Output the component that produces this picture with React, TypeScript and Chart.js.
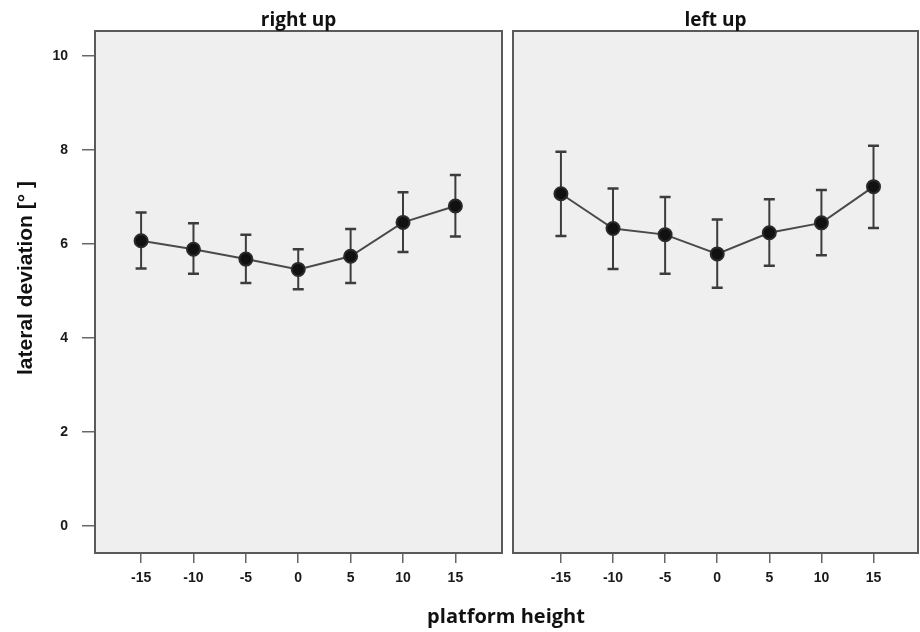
import React, { useEffect, useRef } from "react";
import { Chart, registerables } from "chart.js";

Chart.register(...registerables);

// ---- data ----
const heights = [-15, -10, -5, 0, 5, 10, 15];
const rightUpMean = [6.07, 5.89, 5.68, 5.46, 5.74, 6.46, 6.81];
const rightUpUpper = [6.67, 6.44, 6.2, 5.89, 6.32, 7.1, 7.47];
const rightUpLower = [5.48, 5.37, 5.17, 5.04, 5.17, 5.83, 6.16];
const leftUpMean = [7.07, 6.33, 6.2, 5.79, 6.24, 6.45, 7.22];
const leftUpUpper = [7.96, 7.18, 7.0, 6.52, 6.95, 7.15, 8.09];
const leftUpLower = [6.17, 5.47, 5.37, 5.07, 5.54, 5.76, 6.34];
const yTicks = [0, 2, 4, 6, 8, 10];
const xTicks = [-15, -10, -5, 0, 5, 10, 15];
const panelTitles = ["right up", "left up"];
const xTitle = "platform height";
const yTitle = "lateral deviation [° ]";

const W = 920;
const H = 632;
const TICK_FONT = { family: "'Liberation Sans', Arial, sans-serif", size: 14, weight: "bold" as const };

type PanelOpts = {
  mean: number[];
  upper: number[];
  lower: number[];
  title: string;
  showY: boolean;
  padLeft: number;
  padRight: number;
  xMin: number;
  xMax: number;
  drawShared: boolean;
};

function makeConfig(o: PanelOpts): any {
  const panelPlugin = {
    id: "panelPlugin",
    beforeDraw(chart: any) {
      const { ctx, chartArea: a } = chart;
      ctx.save();
      ctx.fillStyle = "#efefef";
      ctx.fillRect(a.left, a.top, a.right - a.left, a.bottom - a.top);
      ctx.restore();
    },
    beforeDatasetsDraw(chart: any) {
      const { ctx, chartArea: a, scales } = chart;
      ctx.save();
      ctx.strokeStyle = "#5a5a5a";
      ctx.lineWidth = 2;
      ctx.strokeRect(a.left, a.top, a.right - a.left, a.bottom - a.top);
      // error bars
      ctx.strokeStyle = "#3c3c3c";
      ctx.lineWidth = 2;
      const cap = 5.5;
      heights.forEach((h, i) => {
        const x = scales.x.getPixelForValue(h);
        const yt = scales.y.getPixelForValue(o.upper[i]);
        const yb = scales.y.getPixelForValue(o.lower[i]);
        ctx.beginPath();
        ctx.moveTo(x, yt);
        ctx.lineTo(x, yb);
        ctx.stroke();
        ctx.lineWidth = 2.5;
        ctx.beginPath();
        ctx.moveTo(x - cap, yt);
        ctx.lineTo(x + cap, yt);
        ctx.moveTo(x - cap, yb);
        ctx.lineTo(x + cap, yb);
        ctx.stroke();
        ctx.lineWidth = 2;
      });
      ctx.restore();
    },
    afterDraw(chart: any) {
      const { ctx, chartArea: a } = chart;
      ctx.save();
      ctx.fillStyle = "#111";
      ctx.textAlign = "center";
      ctx.textBaseline = "alphabetic";
      ctx.font = "bold 19px 'Open Sans', 'Liberation Sans', sans-serif";
      ctx.fillText(o.title, (a.left + a.right) / 2, 26);
      if (o.drawShared) {
        ctx.font = "bold 20px 'Open Sans', 'Liberation Sans', sans-serif";
        ctx.fillText(xTitle, 506, 623);
        ctx.font = "bold 21px 'Liberation Sans', Arial, sans-serif";
        ctx.textBaseline = "middle";
        ctx.translate(26, 278);
        ctx.rotate(-Math.PI / 2);
        ctx.fillText(yTitle, 0, 0);
      }
      ctx.restore();
    },
  };

  return {
    type: "line",
    data: {
      datasets: [
        {
          data: heights.map((h, i) => ({ x: h, y: o.mean[i] })),
          borderColor: "#4a4a4a",
          borderWidth: 2,
          pointRadius: 6.5,
          pointBackgroundColor: "#111",
          pointBorderColor: "#2a2a2a",
          pointBorderWidth: 2,
          tension: 0,
        },
      ],
    },
    options: {
      animation: false,
      responsive: false,
      devicePixelRatio: 1,
      layout: { autoPadding: false, padding: { left: o.padLeft, right: o.padRight, top: 31, bottom: 0 } },
      plugins: { legend: { display: false }, tooltip: { enabled: false } },
      scales: {
        x: {
          type: "linear",
          min: o.xMin,
          max: o.xMax,
          afterBuildTicks: (s: any) => {
            s.ticks = xTicks.map((v) => ({ value: v }));
          },
          afterFit: (s: any) => {
            s.height = H - 553;
            s.paddingLeft = 0;
            s.paddingRight = 0;
          },
          grid: { display: true, drawOnChartArea: false, drawTicks: true, tickLength: 10, color: "#666", lineWidth: 1.5 },
          border: { display: false },
          ticks: { color: "#1a1a1a", font: TICK_FONT, padding: 7, maxRotation: 0 },
        },
        y: {
          type: "linear",
          display: o.showY,
          min: -0.57,
          max: 10.53,
          afterBuildTicks: (s: any) => {
            s.ticks = yTicks.map((v) => ({ value: v }));
          },
          afterFit: (s: any) => {
            s.width = o.showY ? 95 : 0;
          },
          grid: { display: true, drawOnChartArea: false, drawTicks: true, tickLength: 13, color: "#666", lineWidth: 1.5 },
          border: { display: false },
          ticks: { color: "#1a1a1a", font: TICK_FONT, padding: 14 },
        },
      },
    },
    plugins: [panelPlugin],
  };
}

export default function App() {
  const leftRef = useRef<HTMLCanvasElement | null>(null);
  const rightRef = useRef<HTMLCanvasElement | null>(null);

  useEffect(() => {
    const c1 = new Chart(
      leftRef.current as HTMLCanvasElement,
      makeConfig({
        mean: rightUpMean,
        upper: rightUpUpper,
        lower: rightUpLower,
        title: panelTitles[0],
        showY: true,
        padLeft: 0,
        padRight: W - 502,
        xMin: -19.4,
        xMax: 19.45,
        drawShared: true,
      })
    );
    const c2 = new Chart(
      rightRef.current as HTMLCanvasElement,
      makeConfig({
        mean: leftUpMean,
        upper: leftUpUpper,
        lower: leftUpLower,
        title: panelTitles[1],
        showY: false,
        padLeft: 513,
        padRight: 2,
        xMin: -19.6,
        xMax: 19.27,
        drawShared: false,
      })
    );
    return () => {
      c1.destroy();
      c2.destroy();
    };
  }, []);

  const cs: React.CSSProperties = { position: "absolute", left: 0, top: 0, width: W, height: H };
  return (
    <div style={{ position: "fixed", left: 0, top: 0, width: W, height: H, background: "#fff" }}>
      <canvas ref={leftRef} width={W} height={H} style={cs} />
      <canvas ref={rightRef} width={W} height={H} style={cs} />
    </div>
  );
}
